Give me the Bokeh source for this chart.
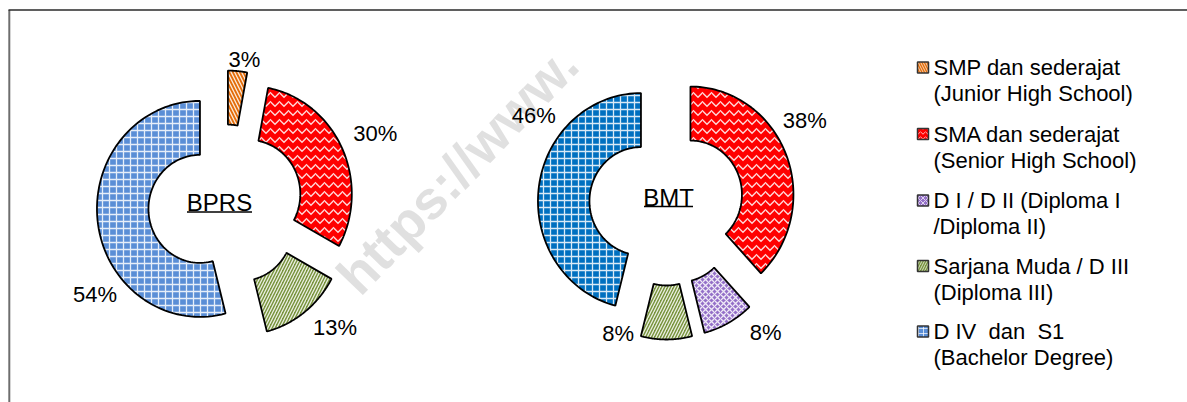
import numpy as np
from bokeh.plotting import figure
from bokeh.models import Range1d
from bokeh.core.properties import value
from bokeh.embed import file_html
from bokeh.resources import INLINE

# ---------------- data ----------------
categories = ["SMP dan sederajat", "SMA dan sederajat", "D I / D II", "Sarjana Muda / D III", "D IV  dan  S1"]
legend_line1 = ["SMP dan sederajat", "SMA dan sederajat", "D I / D II (Diploma I", "Sarjana Muda / D III",
                "D IV\u00a0 dan\u00a0 S1"]
legend_line2 = ["(Junior High School)", "(Senior High School)", "/Diploma II)", "(Diploma III)", "(Bachelor Degree)"]
bprs_values = [3, 30, 0, 13, 54]
bmt_values = [0, 38, 8, 8, 46]
chart_titles = ["BPRS", "BMT"]

# ---------------- styles ----------------
W, H = 1187, 402
fill_bprs = ["#E36C09", "#FF0000", "#9470C8", "#77933C", "#5A8ED6"]
fill_bmt = ["#E36C09", "#FF0000", "#9470C8", "#77933C", "#0070C0"]
hatches = ["left_diagonal_line", "horizontal_wave", "diagonal_cross", "right_diagonal_line", "cross"]
hatch_scales = [7, 9, 6, 6, 7]
FONT = "Liberation Sans"

# layout (page pixel coordinates)
centers = [(225, 205), (666, 204)]
RX, RY = 103, 108
HOLE = 0.5
EXPLODE = 0.25
title_pos = [(219, 202), (668, 197)]
underline = [(186.5, 251.5, 211.5), (643.5, 692.5, 206)]
# per-label nudges: (angle shift deg, radius factor)
label_nudge = [
    [(2.4, 1.36), (0.5, 1.6), (0, 1.5), (-5.5, 1.55), (-25.8, 1.51)],
    [(0, 1.5), (-8.4, 1.55), (-10.2, 1.53), (21.5, 1.28), (25.4, 1.53)],
]


def fx(px):
    return px


def fy(py):
    return H - py


p = figure(width=W, height=H, output_backend="svg", toolbar_location=None,
           x_range=Range1d(0, W), y_range=Range1d(0, H),
           x_axis_location=None, y_axis_location=None, min_border=0)
p.grid.visible = False
p.outline_line_color = None
p.background_fill_color = "white"
p.border_fill_color = "white"

# watermark
p.text(x=[fx(346)], y=[fy(284)], text=["https://www."], angle=[np.deg2rad(46)],
       text_font=value(FONT), text_font_style="bold", text_font_size="54px",
       text_color="#E0E0E0", text_align="left", text_baseline="alphabetic")

# frame lines (top and left)
p.line(x=[fx(8.8), fx(8.8)], y=[fy(9.5), 0], line_color="#6E6E6E", line_width=2)
p.line(x=[fx(8.0), W], y=[fy(9.5), fy(9.5)], line_color="#2A2A2A", line_width=1.5)

for ci, vals in enumerate([bprs_values, bmt_values]):
    cx, cy = centers[ci]
    fills = fill_bprs if ci == 0 else fill_bmt
    total = float(sum(vals))
    start = 0.0
    for si, v in enumerate(vals):
        span = 360.0 * v / total
        a0, a1 = start, start + span
        start = a1
        if v == 0:
            continue
        mid = np.deg2rad((a0 + a1) / 2)
        ox = cx + EXPLODE * RX * np.sin(mid)
        oy = cy - EXPLODE * RY * np.cos(mid)
        ang = np.deg2rad(np.linspace(a0, a1, 80))
        xs_out = ox + RX * np.sin(ang)
        ys_out = oy - RY * np.cos(ang)
        xs_in = ox + HOLE * RX * np.sin(ang[::-1])
        ys_in = oy - HOLE * RY * np.cos(ang[::-1])
        xs = np.concatenate([xs_out, xs_in])
        ys = np.concatenate([ys_out, ys_in])
        p.patch(x=fx(xs), y=fy(ys), fill_color=fills[si], line_color="black",
                line_width=1.8, hatch_pattern=hatches[si], hatch_color="white",
                hatch_scale=hatch_scales[si], hatch_weight=1.3, hatch_alpha=0.85)
        # percentage label
        dang, rf = label_nudge[ci][si]
        la = mid + np.deg2rad(dang)
        lx = cx + rf * RX * np.sin(la)
        ly = cy - rf * RY * np.cos(la)
        p.text(x=[fx(lx)], y=[fy(ly)], text=[f"{v}%"], text_font=value(FONT),
               text_font_size="22px", text_color="black",
               text_align="center", text_baseline="middle")
    # center title with underline
    tx, ty = title_pos[ci]
    p.text(x=[fx(tx)], y=[fy(ty)], text=[chart_titles[ci]], text_font=value(FONT),
           text_font_size="24px", text_color="black",
           text_align="center", text_baseline="middle")
    u0, u1, uy = underline[ci]
    p.line(x=[fx(u0), fx(u1)], y=[fy(uy), fy(uy)], line_color="black", line_width=1.6)

# legend (manual)
leg_icon_x = 922.5
leg_text_x = 933
leg_y1 = [67, 133.5, 200, 265.5, 331]
leg_gap = 26
for i in range(len(categories)):
    p.rect(x=[fx(leg_icon_x)], y=[fy(leg_y1[i])], width=11, height=11,
           fill_color=fill_bprs[i], line_color="#333333", line_width=1.5,
           hatch_pattern=hatches[i], hatch_color="white", hatch_scale=5,
           hatch_weight=1.0, hatch_alpha=0.7)
    p.text(x=[fx(leg_text_x)] * 2, y=[fy(leg_y1[i]), fy(leg_y1[i] + leg_gap)],
           text=[legend_line1[i], legend_line2[i]], text_font=value(FONT),
           text_font_size="22px", text_color="black",
           text_align="left", text_baseline="middle")

open("out.html", "w").write(file_html(p, INLINE))
